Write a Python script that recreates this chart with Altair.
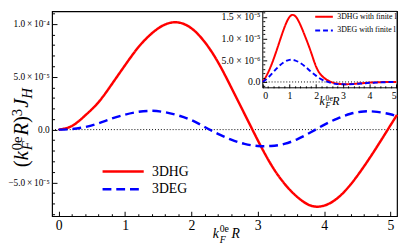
import altair as alt
import pandas as pd

# ---------------- data ----------------
main_x = [0.0, 0.2, 0.4, 0.6, 0.8, 1.0, 1.2, 1.4, 1.6, 1.8, 2.0, 2.2, 2.4, 2.6,
          2.8, 3.0, 3.2, 3.4, 3.6, 3.8, 4.0, 4.2, 4.4, 4.6, 4.8, 5.0, 5.1]
main_hg = [0.0, 3.5e-6, 1.35e-5, 2.6e-5, 4.3e-5, 6.1e-5, 7.8e-5, 9.1e-5, 9.95e-5,
           1.015e-4, 9.6e-5, 8.3e-5, 6.4e-5, 4.0e-5, 1.5e-5, -1.0e-5, -3.3e-5,
           -5.1e-5, -6.4e-5, -7.2e-5, -7.2e-5, -6.5e-5, -5.2e-5, -3.5e-5, -1.6e-5,
           4.0e-6, 1.4e-5]
main_eg = [0.0, 5e-7, 2.5e-6, 6e-6, 1.05e-5, 1.42e-5, 1.68e-5, 1.78e-5, 1.65e-5,
           1.35e-5, 9e-6, 2.5e-6, -4e-6, -9.5e-6, -1.35e-5, -1.55e-5, -1.55e-5,
           -1.35e-5, -9e-6, -2.5e-6, 4.5e-6, 1.05e-5, 1.5e-5, 1.72e-5, 1.68e-5,
           1.45e-5, 1.25e-5]

inset_x = [0.0, 0.2, 0.4, 0.6, 0.8, 1.0, 1.2, 1.4, 1.6, 1.8, 2.0, 2.2, 2.4, 2.6,
           2.8, 3.0, 3.2, 3.4, 3.6, 3.8, 4.0, 4.2, 4.4, 4.6, 4.8, 5.0]
inset_hg = [0.0, 2.2e-6, 5.2e-6, 8.8e-6, 1.24e-5, 1.5e-5, 1.53e-5, 1.33e-5, 1.03e-5,
            7.0e-6, 3.5e-6, 1.5e-6, 5e-7, -1e-7, -4e-7, -5e-7, -5e-7, -4.5e-7,
            -3.5e-7, -2.5e-7, -1.5e-7, -1e-7, -5e-8, 0.0, 0.0, 0.0]
inset_eg = [0.0, 1.0e-6, 2.3e-6, 3.6e-6, 4.6e-6, 5.1e-6, 5.0e-6, 4.4e-6, 3.5e-6,
            2.4e-6, 1.4e-6, 6e-7, 1e-7, -3e-7, -5e-7, -5.5e-7, -5.5e-7, -5e-7,
            -4e-7, -3e-7, -2e-7, -1.5e-7, -1e-7, -5e-8, 0.0, 0.0]

main_names = ["3DHG", "3DEG"]
inset_names = ["3DHG with finite l", "3DEG with finite l"]

x_ticks = [0, 1, 2, 3, 4, 5]
x_minor = [0.2, 0.4, 0.6, 0.8, 1.2, 1.4, 1.6, 1.8, 2.2, 2.4, 2.6, 2.8, 3.2, 3.4,
           3.6, 3.8, 4.2, 4.4, 4.6, 4.8]
main_y_ticks = [-5e-5, 0.0, 5e-5, 1e-4]
main_y_labels = ["\u22125.0\u2009\u00d7\u200910\u207b\u2075", "0.0",
                 "5.0\u2009\u00d7\u200910\u207b\u2075", "1.0\u2009\u00d7\u200910\u207b\u2074"]
main_y_minor = [-8e-5, -7e-5, -6e-5, -4e-5, -3e-5, -2e-5, -1e-5, 1e-5, 2e-5,
                3e-5, 4e-5, 6e-5, 7e-5, 8e-5, 9e-5, 1.1e-4]
inset_y_ticks = [0.0, 5e-6, 1e-5, 1.5e-5]
inset_y_labels = ["0.0", "5.0 \u00d7 10\u207b\u2076",
                  "1.0 \u00d7 10\u207b\u2075", "1.5 \u00d7 10\u207b\u2075"]
inset_y_minor = [-1e-6, 1e-6, 2e-6, 3e-6, 4e-6, 6e-6, 7e-6, 8e-6, 9e-6, 1.1e-5,
                 1.2e-5, 1.3e-5, 1.4e-5, 1.6e-5]

main_dom_x = [-0.1, 5.1]
main_dom_y = [-8.2e-5, 1.12e-4]
inset_dom_x = [0.0, 5.03]
inset_dom_y = [-1.35e-6, 1.63e-5]

# ---------------- layout ----------------
W, H = 352, 209
OX, OY = 53, 9           # page position of the plot origin
IL, IR, IT, IB = 215, 352, 0, 78   # inset box inside the plot
SERIF = "Liberation Serif"

main_df = pd.DataFrame({
    "x": main_x + main_x,
    "y": main_hg + main_eg,
    "series": [main_names[0]] * len(main_x) + [main_names[1]] * len(main_x),
})
inset_df = pd.DataFrame({
    "x": inset_x + inset_x,
    "y": inset_hg + inset_eg,
    "series": [inset_names[0]] * len(inset_x) + [inset_names[1]] * len(inset_x),
})


def mscale_x():
    return alt.Scale(domain=main_dom_x, nice=False, zero=False)


def mscale_y():
    return alt.Scale(domain=main_dom_y, nice=False, zero=False)


def iscale_x():
    return alt.Scale(domain=inset_dom_x, range=[IL, IR], nice=False, zero=False)


def iscale_y():
    return alt.Scale(domain=inset_dom_y, range=[IB, IT], nice=False, zero=False)


def label_expr(vals, labs):
    e = "''"
    for v, s in zip(vals, labs):
        e = f"abs(datum.value - ({v!r})) < 1e-12 ? '{s}' : ({e})"
    return e


def axis(orient, values, size=0, offset=0, labels=False, z=0, **kw):
    return alt.Axis(orient=orient, values=values, ticks=size > 0, tickSize=size,
                    offset=offset, labels=labels, domain=False, grid=False,
                    title=None, tickColor="black", tickWidth=1, zindex=z,
                    labelFont=SERIF, labelColor="black", **kw)


layers = []

# main zero line
layers.append(
    alt.Chart(pd.DataFrame({"v": [0.0]}))
    .mark_rule(color="black", strokeWidth=1, strokeDash=[1, 2])
    .encode(y=alt.Y("v:Q", scale=mscale_y(), axis=None))
)

# main major / minor inward ticks
layers.append(
    alt.Chart(main_df).mark_point(opacity=0).encode(
        x=alt.X("x:Q", scale=mscale_x(), axis=axis("bottom", x_ticks, 5, -5)),
        y=alt.Y("y:Q", scale=mscale_y(), axis=axis("left", main_y_ticks, 5, -5)),
    )
)
layers.append(
    alt.Chart(main_df).mark_point(opacity=0).encode(
        x=alt.X("x:Q", scale=mscale_x(), axis=axis("bottom", x_minor, 2.5, -2.5)),
        y=alt.Y("y:Q", scale=mscale_y(), axis=axis("left", main_y_minor, 2.5, -2.5)),
    )
)

leg_main = alt.Legend(orient="none", legendX=64, legendY=155, title=None,
                      symbolType="M-3,0H3", symbolSize=196, symbolStrokeWidth=2.5,
                      labelFont=SERIF, labelFontSize=14, labelColor="black",
                      labelOffset=21, rowPadding=2, padding=0)

layers.append(
    alt.Chart(main_df).mark_line(strokeWidth=2.5, interpolate="natural").encode(
        x=alt.X("x:Q", scale=mscale_x(),
                axis=axis("bottom", x_ticks, labels=True, labelFontSize=14,
                          labelPadding=3, format="d")),
        y=alt.Y("y:Q", scale=mscale_y(),
                axis=axis("left", main_y_ticks, labels=True, labelFontSize=9.5,
                          labelPadding=3, labelAlign="right", labelBaseline="middle",
                          labelExpr=label_expr(main_y_ticks, main_y_labels))),
        color=alt.Color("series:N", scale=alt.Scale(domain=main_names,
                        range=["#ff0000", "#0000ff"]), legend=leg_main),
        strokeDash=alt.StrokeDash("series:N", scale=alt.Scale(domain=main_names,
                                  range=[[1, 0], [9, 5]]), legend=leg_main),
    )
)

# inset box
box_df = pd.DataFrame({"x0": [inset_dom_x[0]], "x1": [inset_dom_x[1]],
                       "y0": [inset_dom_y[0]], "y1": [inset_dom_y[1]], "z": [0.0]})
layers.append(
    alt.Chart(box_df).mark_rect(fill="white", stroke="black", strokeWidth=1).encode(
        x=alt.X("x0:Q", scale=iscale_x(), axis=None), x2="x1",
        y=alt.Y("y0:Q", scale=iscale_y(), axis=None), y2="y1",
    )
)
layers.append(
    alt.Chart(box_df).mark_rule(color="black", strokeWidth=1, strokeDash=[1, 2]).encode(
        x=alt.X("x0:Q", scale=iscale_x(), axis=None), x2="x1",
        y=alt.Y("z:Q", scale=iscale_y(), axis=None),
    )
)

leg_inset = alt.Legend(orient="none", legendX=272, legendY=0, title=None,
                       symbolType="M-2,0H2", symbolSize=81, symbolStrokeWidth=2,
                       labelFont=SERIF, labelFontSize=8, labelColor="black",
                       labelOffset=8, rowPadding=4, padding=0)

layers.append(
    alt.Chart(inset_df).mark_line(strokeWidth=2, interpolate="natural").encode(
        x=alt.X("x:Q", scale=iscale_x(),
                axis=axis("bottom", x_ticks, offset=-(H - IB), labels=True,
                          labelFontSize=10, labelPadding=3, format="d", z=1)),
        y=alt.Y("y:Q", scale=iscale_y(),
                axis=axis("left", inset_y_ticks, offset=-IL, labels=True,
                          labelFontSize=10, labelPadding=3, z=1,
                          labelAlign="right", labelBaseline="middle",
                          labelExpr=label_expr(inset_y_ticks, inset_y_labels))),
        color=alt.Color("series:N", scale=alt.Scale(domain=inset_names,
                        range=["#ff0000", "#0000ff"]), legend=leg_inset),
        strokeDash=alt.StrokeDash("series:N", scale=alt.Scale(domain=inset_names,
                                  range=[[1, 0], [5, 3]]), legend=leg_inset),
    )
)
layers.append(
    alt.Chart(inset_df).mark_point(opacity=0).encode(
        x=alt.X("x:Q", scale=iscale_x(),
                axis=axis("bottom", x_ticks, 4, -(H - IB) - 4, z=1)),
        y=alt.Y("y:Q", scale=iscale_y(),
                axis=axis("left", inset_y_ticks, 4, -IL - 4, z=1)),
    )
)
layers.append(
    alt.Chart(inset_df).mark_point(opacity=0).encode(
        x=alt.X("x:Q", scale=iscale_x(),
                axis=axis("bottom", x_minor, 2, -(H - IB) - 2, z=1)),
        y=alt.Y("y:Q", scale=iscale_y(),
                axis=axis("left", inset_y_minor, 2, -IL - 2, z=1)),
    )
)


# axis titles built from pieces (page coordinates)
def piece(s, px, py, size, italic=False, angle=0):
    return alt.Chart(pd.DataFrame({"t": [s]})).mark_text(
        align="left", baseline="alphabetic", font=SERIF, fontSize=size,
        fontStyle="italic" if italic else "normal", angle=angle, color="black",
    ).encode(x=alt.value(px - OX), y=alt.value(py - OY), text="t:N")


title_pieces = [
    # main x title
    ("k", 217, 240, 14, True, 0), ("0e", 224, 234, 10, False, 0),
    ("F", 224, 245, 10, True, 0), ("R", 236, 240, 14, True, 0),
    # inset x title
    ("k", 326, 105, 12, True, 0), ("0e", 332, 100, 8, False, 0),
    ("F", 332, 108, 8, True, 0), ("R", 339, 105, 12, True, 0),
    # y title (rotated, reads upward)
    ("(", 28, 168, 21, False, 270), ("k", 28, 161, 21, True, 270),
    ("0e", 22.5, 150.7, 15, False, 270), ("F", 32, 150.7, 15, True, 270),
    ("R", 28, 135.7, 21, True, 270), (")", 28, 122.9, 21, False, 270),
    ("3", 22.5, 115.9, 15, False, 270), ("J", 28, 107.4, 21, True, 270),
    ("H", 32, 98.1, 15, True, 270),
]
for p in title_pieces:
    layers.append(piece(*p))

chart = (
    alt.layer(*layers)
    .resolve_scale(x="independent", y="independent", color="independent",
                   strokeDash="independent")
    .resolve_axis(x="independent", y="independent")
    .resolve_legend(color="independent", strokeDash="independent")
    .properties(width=W, height=H, background="white",
                padding={"left": OX - 8, "top": OY - 8, "right": 2, "bottom": 29},
                autosize=alt.AutoSizeParams(type="none"))
    .configure_view(stroke="black", strokeWidth=1.2)
)

chart.save("out.html", embed_options={"renderer": "svg", "actions": False})
